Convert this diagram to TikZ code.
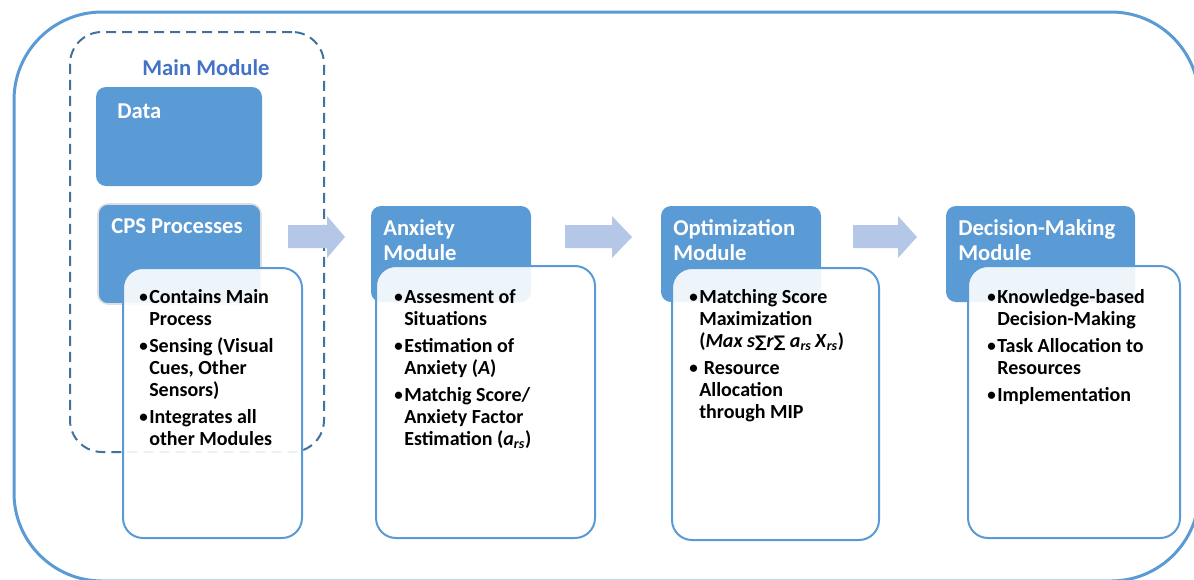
\documentclass[tikz,border=0pt]{standalone}
\usepackage{fontspec}
\setmainfont{Carlito}
\newfontfamily\symf{DejaVu Sans}
\usetikzlibrary{fit}
\definecolor{mblue}{RGB}{91,155,213}
\definecolor{dblue}{RGB}{65,113,156}
\definecolor{tblue}{RGB}{68,114,196}
\definecolor{lblue}{RGB}{180,199,231}
% bullet and continuation indent for list lines
\newcommand{\bul}{\makebox[7.5pt][l]{\raisebox{0.6pt}{\scalebox{0.85}{•}}}}
\newcommand{\cont}{\hspace*{7.5pt}}
\newcommand{\sumsym}{{\symf\fontsize{12}{12}\selectfont ∑}}
\begin{document}
\begin{tikzpicture}[x=0.75pt,y=-0.75pt,
  outerframe/.style={draw=mblue, line width=2.25pt, rounded corners=66pt},
  mainframe/.style={draw=dblue, line width=1.5pt, dash pattern=on 7.5pt off 4.5pt, rounded corners=24pt},
  header/.style={fill=mblue, inner sep=0pt, rounded corners=7.5pt},
  cpsheader/.style={header, draw=black!13, line width=1.2pt},
  panel/.style={draw=mblue, line width=1.5pt, fill=white, fill opacity=0.9, inner sep=0pt, rounded corners=15pt},
  blockarrow/.style={fill=lblue},
  headtext/.style={text=white, font=\bfseries\fontsize{17}{19}\selectfont, anchor=north west, inner sep=0pt, align=left},
  itemtext/.style={text=black, font=\bfseries\fontsize{15}{16.5}\selectfont, anchor=north west, inner sep=0pt, align=left},
  titletext/.style={text=tblue, font=\bfseries\fontsize{17}{19}\selectfont, anchor=north, inner sep=0pt}]
\clip (0,0) rectangle (1194,579);
\useasboundingbox (0,0) rectangle (1194,579);

% outer frame around the whole system
\draw[outerframe] (14,12) rectangle (1199,581);

% main module group
\node[mainframe, inner sep=0pt, fit={(70,32) (324,452)}] (main) {};
\node[titletext] (maintitle) at (206,59) {Main Module};

\node[header, fit={(96,87) (262,186)}] (data) {};
\node[headtext] at (117,104) {Data};
\node[cpsheader, fit={(98,204) (261,304)}] (cps) {};
\node[headtext] at (111,218) {CPS Processes};

% module headers
\node[header, fit={(371,206) (531,302)}] (anx) {};
\node[headtext] at (383,219) {Anxiety\\Module};
\node[header, fit={(661,206) (821,302)}] (opt) {};
\node[headtext] at (673,219) {Optimization\\Module};
\node[header, fit={(946,206) (1135,302)}] (dec) {};
\node[headtext] at (958,219) {Decision-Making\\Module};

% content panels
\node[panel, fit={(123,268) (302,538)}] (p1) {};
\node[panel, fit={(376,266) (595,538)}] (p2) {};
\node[panel, fit={(672,268) (879,540)}] (p3) {};
\node[panel, fit={(968,266) (1180,538)}] (p4) {};

\node[itemtext] (t1) at (139,289) {\bul Contains Main\\\cont Process\\[3.75pt]\bul Sensing (Visual\\\cont Cues, Other\\\cont Sensors)\\[3.75pt]\bul Integrates all\\\cont other Modules};
\node[itemtext] (t2) at (394,289) {\bul Assesment of\\\cont Situations\\[3.75pt]\bul Estimation of\\\cont Anxiety (\textit{A})\\[3.75pt]\bul Matchig Score/\\\cont Anxiety Factor\\\cont Estimation (\textit{a}\textsubscript{\textit{rs}})};
\node[itemtext] (t3) at (689,289) {\bul Matching Score\\\cont Maximization\\\cont (\textit{Max s}\sumsym\textit{r}\sumsym\ \textit{a}\textsubscript{\textit{rs}}\,\textit{X}\textsubscript{\textit{rs}})\\[3.75pt]\bul\ Resource\\\cont Allocation\\\cont through MIP};
\node[itemtext] (t4) at (987,289) {\bul Knowledge-based\\\cont Decision-Making\\[3.75pt]\bul Task Allocation to\\\cont Resources\\[3.75pt]\bul Implementation};

% block arrows between the stages
\fill[blockarrow] (288,225) -- (327,225) -- (327,216) -- (345,237) -- (327,258) -- (327,248) -- (288,248) -- cycle;
\fill[blockarrow] (565,225) -- (612,225) -- (612,216) -- (632,237) -- (612,258) -- (612,248) -- (565,248) -- cycle;
\fill[blockarrow] (853,225) -- (898,225) -- (898,216) -- (917,237) -- (898,258) -- (898,248) -- (853,248) -- cycle;
\end{tikzpicture}
\end{document}
